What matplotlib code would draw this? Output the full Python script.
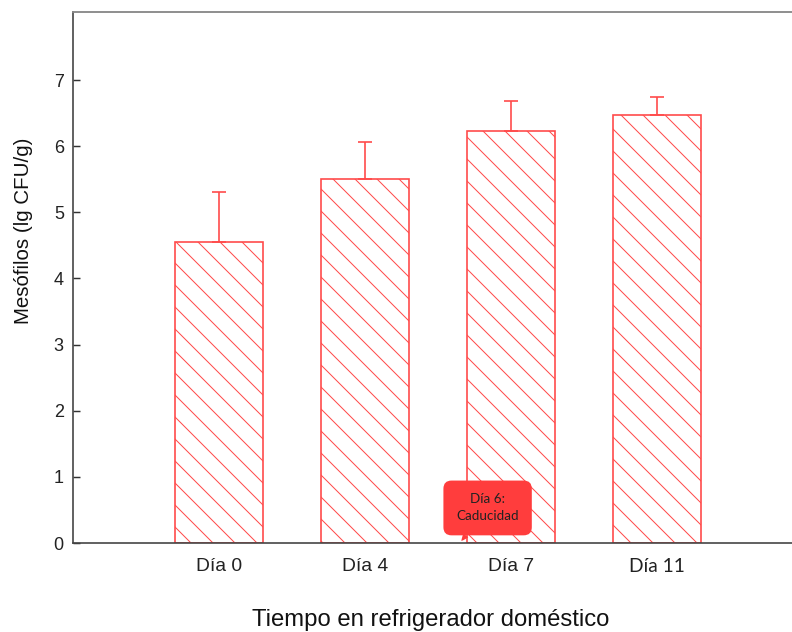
import matplotlib.pyplot as plt
import matplotlib.transforms as mtransforms
import numpy as np

# data
dias = ["Día 0", "Día 4", "Día 7", "Día 11"]
mesofilos = [4.55, 5.51, 6.23, 6.47]
error_sup = [0.76, 0.56, 0.46, 0.28]
nota = "Día 6:\nCaducidad"
nota_x = 2.84
nota_y = 0.53
nota_punta = (2.66, 0.03)

rojo = "#ff4a4a"
plt.rcParams["hatch.linewidth"] = 0.55
plt.rcParams["hatch.color"] = rojo

fig = plt.figure(figsize=(6, 632 / 132), dpi=132)
ax = fig.add_axes([73 / 792, 89 / 632, 719 / 792, 531 / 632])

x = np.arange(1, len(dias) + 1)
ax.bar(x, mesofilos, width=0.6, facecolor="white", edgecolor=rojo,
       linewidth=0.9, hatch="\\\\", zorder=2)
ax.errorbar(x, mesofilos, yerr=[np.zeros(len(x)), error_sup], fmt="none",
            ecolor=rojo, elinewidth=0.9, capsize=3.8, capthick=0.9, zorder=3)

ax.set_xlim(0, 4.925)
ax.set_ylim(0, 8.03)
ax.set_yticks(range(8))
ax.set_xticks(x)
ax.set_xticklabels(dias, family="Liberation Sans", fontsize=10.5, color="#222222")
ultimo = ax.get_xticklabels()[-1]
ultimo.set_family("Lato")
ultimo.set_transform(ultimo.get_transform() +
                     mtransforms.ScaledTranslation(0, -4 / 132, fig.dpi_scale_trans))
ax.tick_params(axis="x", length=0, pad=8)
ax.tick_params(axis="y", direction="in", length=4, width=0.8, color="#333333",
               labelsize=9.8, pad=5, labelcolor="#222222")
for lab in ax.get_yticklabels():
    lab.set_family("Liberation Sans")

for s in ["left", "bottom"]:
    ax.spines[s].set_color("#444444")
    ax.spines[s].set_linewidth(0.9)
ax.spines["top"].set_color("#888888")
ax.spines["top"].set_linewidth(1.0)
ax.spines["right"].set_visible(False)

ax.set_ylabel("Mesófilos (lg CFU/g)", family="Liberation Sans", fontsize=11.2,
              color="#111111")
ax.yaxis.set_label_coords(-0.056, 0.588)
ax.set_xlabel("Tiempo en refrigerador doméstico", family="Liberation Sans",
              fontsize=13, color="#111111")
ax.xaxis.set_label_coords(0.498, -0.124)

ax.annotate(nota, xy=nota_punta, xytext=(nota_x, nota_y), textcoords="data",
            ha="center", va="center", family="Lato", fontsize=7.4,
            color="#222222", linespacing=1.5, zorder=5,
            bbox=dict(boxstyle="round,pad=0.95,rounding_size=0.6",
                      facecolor="#ff3d3d", edgecolor="none"),
            arrowprops=dict(arrowstyle="wedge,tail_width=0.45,shrink_factor=0.6",
                            facecolor="#ff3d3d", edgecolor="none",
                            shrinkA=0, shrinkB=0))

fig.savefig("out.png", dpi=132)
